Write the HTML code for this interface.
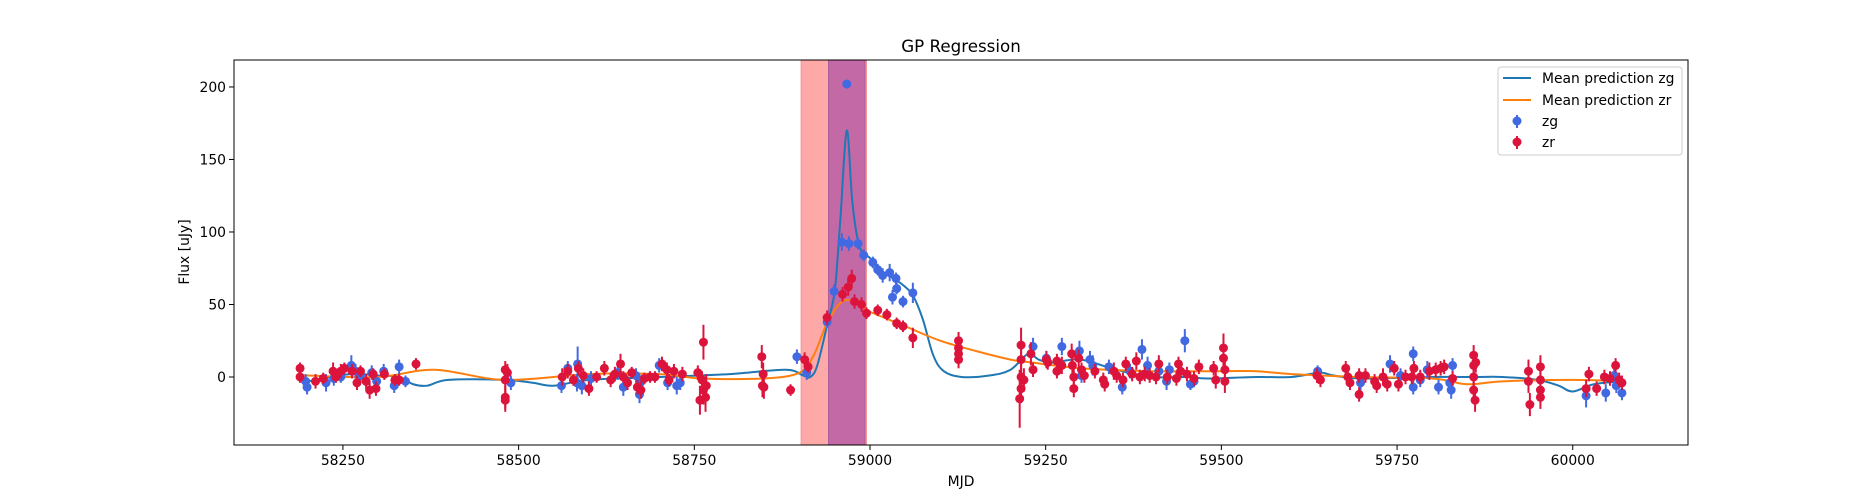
<!DOCTYPE html>
<html><head><meta charset="utf-8"><style>
html,body{margin:0;padding:0;background:#fff;}
svg{display:block;font-family:"DejaVu Sans","Liberation Sans",sans-serif;}
</style></head><body>
<svg id="chart" width="1875" height="500" viewBox="0 0 1875 500" xmlns="http://www.w3.org/2000/svg">
<rect width="1875" height="500" fill="#fff"/>
<text x="961" y="52" font-size="16.7" text-anchor="middle">GP Regression</text>
<g id="plot"></g>
<text x="961" y="486" font-size="13.9" text-anchor="middle">MJD</text>
<text transform="translate(189,252) rotate(-90)" font-size="13.9" text-anchor="middle">Flux [uJy]</text>
<g>
<rect x="1498" y="67" width="184" height="88" rx="3" fill="#fff" stroke="#ccc" stroke-width="1"/>
<line x1="1503" y1="78" x2="1531" y2="78" stroke="#1f77b4" stroke-width="2"/>
<text x="1542" y="83" font-size="13.9">Mean prediction zg</text>
<line x1="1503" y1="100" x2="1531" y2="100" stroke="#ff7f0e" stroke-width="2"/>
<text x="1542" y="105" font-size="13.9">Mean prediction zr</text>
<line x1="1517" y1="115" x2="1517" y2="128" stroke="#4169e1" stroke-width="2"/>
<circle cx="1517" cy="121" r="4.5" fill="#4169e1"/>
<text x="1542" y="126" font-size="13.9">zg</text>
<line x1="1517" y1="136" x2="1517" y2="149" stroke="#dc143c" stroke-width="2"/>
<circle cx="1517" cy="142" r="4.5" fill="#dc143c"/>
<text x="1542" y="147" font-size="13.9">zr</text>
</g>
</svg>
<script>
const xTicks=[58250,58500,58750,59000,59250,59500,59750,60000];
const yTicks=[0,50,100,150,200];
const spanRed=[58902,58995];
const spanBlue=[58941,58993];
const zgCurveX=[58190,58200,58260,58300,58330,58350,58370,58400,58480,58520,58550,58600,58700,58800,58880,58905,58915,58925,58940,58950,58958,58967,58975,58985,59000,59020,59040,59060,59075,59090,59105,59130,59170,59200,59225,59240,59260,59300,59350,59400,59450,59480,59550,59600,59640,59660,59700,59800,59860,59900,59950,59980,60000,60030,60070];
const zgCurveY=[-3,-3,2,1,0,-5,-6,-2,-2,-4,-6,-2,0,2,5,1,0,8,38,60,110,170,120,90,82,72,66,57,40,15,4,0,1,5,16,12,10,12,5,0,0,-1,0,0,3,1,-1,0,0,0,-2,-6,-10,-5,-3];
const zrCurveX=[58190,58200,58300,58380,58480,58600,58700,58760,58850,58900,58920,58940,58965,59000,59050,59100,59150,59200,59230,59300,59400,59500,59550,59600,59700,59800,59850,59900,60000,60070];
const zrCurveY=[1,1,0,5,-2,2,2,-1,-1,3,15,38,53,45,35,25,18,12,10,6,4,4,4,2,0,-1,-5,-3,-2,-3];
const zgMjd=[58197,58199,58226,58237,58247,58262,58268,58275,58291,58298,58308,58323,58330,58339,58489,58561,58570,58584,58583,58590,58603,58641,58649,58667,58673,58672,58700,58712,58725,58730,58896,58910,58939,58949,58960,58970,58983,58967,58991,59004,59011,59018,59028,59037,59038,59032,59047,59061,59232,59251,59273,59298,59301,59313,59317,59340,59359,59370,59387,59395,59411,59422,59426,59448,59456,59461,59637,59698,59740,59755,59773,59773,59783,59793,59809,59827,59829,59825,60019,60047,60062,60070,60059];
const zgFlux=[-3,-7,-4,-1,0,8,4,1,3,-3,4,-6,7,-3,-4,-6,6,9,-4,-6,-1,3,-7,1,-4,-12,8,-4,-6,-4,14,3,38,59,93,92,92,202,84,79,74,70,72,68,61,55,52,58,21,13,21,18,1,12,8,7,-7,4,19,8,4,-3,5,25,-5,-3,4,-4,9,1,16,-7,-2,5,-7,-9,8,-4,-13,-11,-6,-11,1];
const zgErr=[5,5,6,5,4,7,5,4,5,4,5,5,5,4,5,5,5,12,6,6,5,5,6,5,5,6,5,5,6,5,5,5,4,5,6,5,4,3,4,4,4,5,6,4,4,5,4,7,6,5,6,7,5,6,7,5,5,5,7,6,5,6,5,8,4,4,4,6,6,5,5,5,5,6,5,6,5,5,8,6,5,5,5];
const zrMjd=[58189,58189,58211,58222,58236,58240,58247,58252,58263,58270,58275,58283,58288,58293,58297,58309,58324,58330,58354,58481,58481,58481,58481,58484,58562,58570,58578,58585,58592,58600,58611,58622,58631,58637,58645,58649,58655,58661,58669,58674,58679,58687,58694,58704,58711,58714,58721,58733,58755,58761,58763,58763,58766,58758,58767,58846,58848,58847,58849,58887,58907,58912,58939,58961,58969,58974,58978,58988,58995,59011,59024,59038,59047,59061,59126,59126,59126,59126,59215,59215,59215,59215,59213,59219,59229,59232,59251,59253,59266,59266,59273,59287,59288,59290,59290,59297,59301,59305,59320,59332,59334,59347,59351,59360,59364,59373,59379,59384,59391,59398,59407,59411,59423,59436,59439,59442,59451,59461,59468,59489,59492,59503,59503,59505,59505,59636,59641,59677,59680,59683,59696,59696,59705,59718,59721,59730,59736,59746,59752,59762,59771,59774,59783,59796,59805,59812,59817,59829,59859,59859,59859,59859,59861,59862,59937,59937,59939,59954,59954,59954,59954,60019,60023,60034,60045,60053,60061,60066,60070];
const zrFlux=[6,0,-3,-1,4,0,4,6,4,-4,4,-3,-9,2,-8,2,-2,-2,9,5,-2,-14,-16,3,0,4,-2,6,1,-8,0,6,-2,2,9,0,-4,3,-7,-9,-1,0,0,9,5,-2,4,2,3,-2,24,-9,-14,-16,-6,14,2,-6,-7,-9,12,7,41,57,62,68,52,50,44,46,43,37,35,27,25,20,16,12,22,12,0,-8,-15,-2,16,5,12,10,11,4,8,16,8,0,-8,13,5,1,4,-2,-5,4,1,-2,9,2,11,0,2,1,0,9,0,-1,9,4,2,-1,7,6,-2,20,13,5,-3,1,-2,6,0,-4,-12,1,1,-3,-6,0,-5,6,-5,0,0,6,0,4,5,6,7,-1,15,8,0,-9,-16,10,4,-3,-19,7,-2,-9,-14,-8,2,-8,0,-1,8,-2,-4];
const zrErr=[4,4,5,4,6,4,5,4,5,5,4,5,6,4,5,4,4,4,4,6,6,8,8,6,6,5,4,5,5,5,4,5,5,5,7,4,5,4,5,6,4,4,4,5,5,4,5,5,5,6,12,10,10,10,8,8,8,8,8,4,5,4,5,5,6,6,5,5,4,4,4,4,4,7,6,6,6,6,12,10,12,10,20,8,8,5,6,5,5,5,6,7,6,7,6,6,5,5,5,5,5,6,5,5,5,5,6,5,5,5,5,6,5,5,5,5,5,5,5,5,6,10,8,8,8,5,5,5,5,5,5,5,5,5,5,6,5,5,5,5,5,5,5,6,5,5,5,5,7,7,7,7,8,7,8,8,8,8,8,8,8,6,5,5,5,5,5,5,5];

const L=234,R=1688,T=60,B=445,XMIN=58095,XMAX=60164,YMIN=-46.9,YMAX=218.6;
function sx(v){return L+(v-XMIN)/(XMAX-XMIN)*(R-L);}
function sy(v){return B-(v-YMIN)/(YMAX-YMIN)*(B-T);}
const NS='http://www.w3.org/2000/svg';
const plot=document.getElementById('plot');
function mk(tag,attrs,parent){const e=document.createElementNS(NS,tag);for(const k in attrs)e.setAttribute(k,attrs[k]);(parent||plot).appendChild(e);return e;}

let s1=mk('rect',{x:sx(spanRed[0]),y:T,width:sx(spanRed[1])-sx(spanRed[0]),height:B-T,fill:'#ffa8a8',stroke:'#f59595','stroke-width':1});


let s2=mk('rect',{x:sx(spanBlue[0]),y:T,width:sx(spanBlue[1])-sx(spanBlue[0]),height:B-T,fill:'#c36aa6',stroke:'#a85d9e','stroke-width':1});



function curvePath(xs,ys){
  const p=xs.map((x,i)=>[sx(x),sy(ys[i])]);
  let d='M'+p[0][0]+','+p[0][1];
  for(let i=0;i<p.length-1;i++){
    const p0=p[i>0?i-1:i],p1=p[i],p2=p[i+1],p3=p[i+2<p.length?i+2:i+1];
    const c1=[p1[0]+(p2[0]-p0[0])/6,p1[1]+(p2[1]-p0[1])/6];
    const c2=[p2[0]-(p3[0]-p1[0])/6,p2[1]-(p3[1]-p1[1])/6];
    d+=' C'+c1[0]+','+c1[1]+' '+c2[0]+','+c2[1]+' '+p2[0]+','+p2[1];
  }
  return d;
}
const clip=mk('clipPath',{id:'ax'});mk('rect',{x:L,y:T,width:R-L,height:B-T},clip);
const g=mk('g',{'clip-path':'url(#ax)'});
let c1=mk('path',{d:curvePath(zgCurveX,zgCurveY),fill:'none',stroke:'#1f77b4','stroke-width':2},g);


let c2=mk('path',{d:curvePath(zrCurveX,zrCurveY),fill:'none',stroke:'#ff7f0e','stroke-width':2},g);



function points(ms,fs,es,color,name){
  for(let i=0;i<ms.length;i++){
    const x=sx(ms[i]);
    const l=mk('line',{x1:x,x2:x,y1:sy(fs[i]-es[i]),y2:sy(fs[i]+es[i]),stroke:color,'stroke-width':2},g);
    
    
    const c=mk('circle',{cx:x,cy:sy(fs[i]),r:4.5,fill:color},g);
    
    
  }
}
points(zgMjd,zgFlux,zgErr,'#4169e1','zg');
points(zrMjd,zrFlux,zrErr,'#dc143c','zr');

let fr=mk('rect',{x:L,y:T,width:R-L,height:B-T,fill:'none',stroke:'#000','stroke-width':1});


xTicks.forEach(v=>{
  const x=sx(v);
  const t=mk('line',{x1:x,x2:x,y1:B,y2:B+5,stroke:'#000','stroke-width':1});
  
  
  const tx=mk('text',{x:x,y:B+20,'font-size':13.9,'text-anchor':'middle'});
  tx.textContent=v;
  
  
});
yTicks.forEach(v=>{
  const y=sy(v);
  const t=mk('line',{x1:L-5,x2:L,y1:y,y2:y,stroke:'#000','stroke-width':1});
  
  
  const tx=mk('text',{x:L-8,y:y+5,'font-size':13.9,'text-anchor':'end'});
  tx.textContent=v;
  
  
});
</script>
</body></html>
